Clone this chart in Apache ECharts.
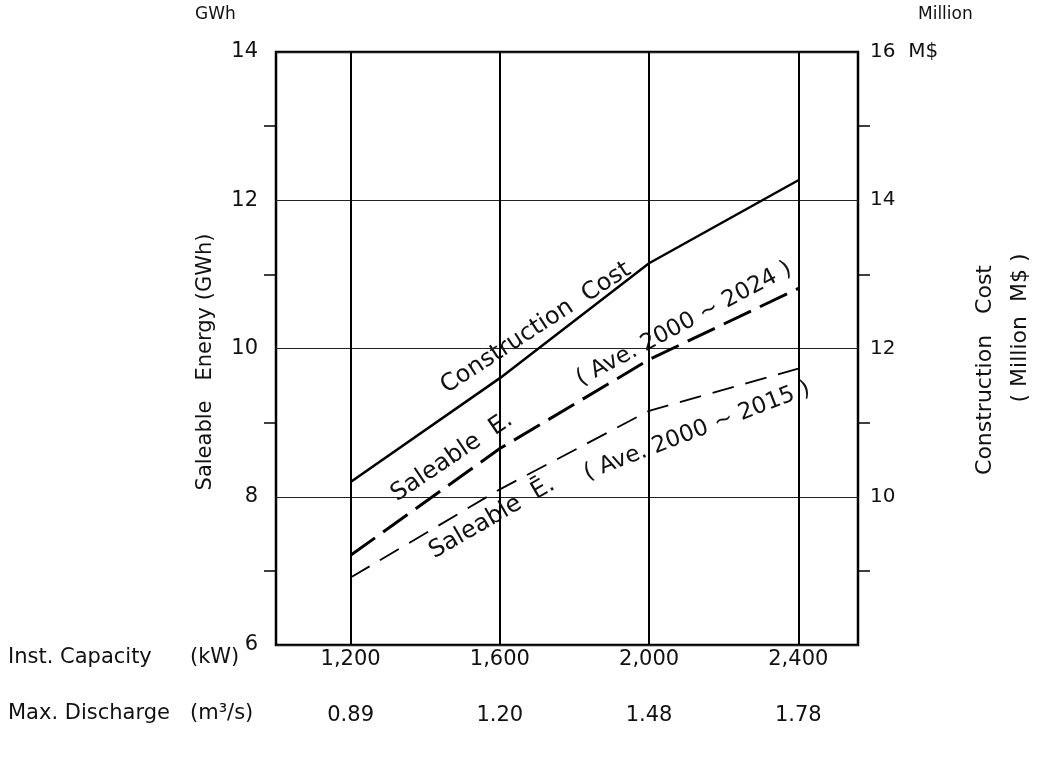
<!DOCTYPE html>
<html><head><meta charset="utf-8">
<script src="https://cdn.jsdelivr.net/npm/echarts@6/dist/echarts.min.js"></script>
<style>html,body{margin:0;padding:0;background:#fff}#c{width:1041px;height:757px}</style>
</head><body><div id="c"></div>
<script>
// Data
var capacityKW = [1200, 1600, 2000, 2400];
var capacityLabels = ['1,200', '1,600', '2,000', '2,400'];
var maxDischarge = ['0.89', '1.20', '1.48', '1.78'];
var constructionCost = [10.2, 11.6, 13.15, 14.27];   // Million M$ (right axis)
var saleable2024 = [7.21, 8.65, 9.85, 10.81];         // GWh
var saleable2015 = [6.91, 8.1, 9.16, 9.73];           // GWh
var leftTicks = [6, 8, 10, 12, 14];
var rightTicks = [10, 12, 14, 16];

var FONT = '"DejaVu Sans", "Noto Sans", sans-serif';
function pairs(xs, ys){ return xs.map(function(x,i){ return [x, ys[i]]; }); }
function rtext(txt, x, y, deg, size){
  return { type: 'text', x: x, y: y, rotation: deg * Math.PI / 180,
    style: { text: txt, fontFamily: FONT, fontSize: size, fill: '#111', align: 'center', verticalAlign: 'middle' } };
}

var chart = echarts.init(document.getElementById('c'));
chart.setOption({
  animation: false,
  backgroundColor: '#fff',
  grid: { left: 276, right: 183, top: 52, bottom: 112, outerBoundsMode: 'none', containLabel: false,
          show: true, borderColor: '#000', borderWidth: 2.5, backgroundColor: 'transparent' },
  xAxis: {
    type: 'value', min: 1000, max: 2560, interval: 200,
    axisLine: { show: false }, axisTick: { show: false }, splitLine: { show: false },
    axisLabel: {
      margin: 0, fontFamily: FONT, fontSize: 21, color: '#111',
      formatter: function(v){
        var i = capacityKW.indexOf(v);
        return i < 0 ? '' : '{a|' + capacityLabels[i] + '}\n{b|' + maxDischarge[i] + '}';
      },
      rich: { a: { fontFamily: FONT, fontSize: 21, color: '#111', lineHeight: 30 },
              b: { fontFamily: FONT, fontSize: 21, color: '#111', lineHeight: 82 } }
    }
  },
  yAxis: [{
    type: 'value', min: 6, max: 14, interval: 2, position: 'left',
    axisLine: { show: false }, axisTick: { show: false },
    minorTick: { show: true, splitNumber: 2, length: 12, inside: true, lineStyle: { color: '#000', width: 1.5 } },
    splitLine: { show: true, lineStyle: { color: '#222', width: 1 } },
    axisLabel: { margin: 18, fontFamily: FONT, fontSize: 21, color: '#111' }
  }, {
    type: 'value', min: 8, max: 16, interval: 2, position: 'right',
    axisLine: { show: false }, axisTick: { show: false }, splitLine: { show: false },
    minorTick: { show: true, splitNumber: 2, length: 12, inside: true, lineStyle: { color: '#000', width: 1.5 } },
    axisLabel: { margin: 12, fontFamily: FONT, fontSize: 20, color: '#111',
      formatter: function(v){ return rightTicks.indexOf(v) < 0 ? '' : (v === 16 ? v + '  M$' : String(v)); } }
  }],
  graphic: [
    { type: 'text', left: 195, top: 6, style: { text: 'GWh', fontFamily: FONT, fontSize: 17, fill: '#111' } },
    { type: 'text', left: 918, top: 6, style: { text: 'Million', fontFamily: FONT, fontSize: 17, fill: '#111' } },
    { type: 'text', left: 8, top: 647, style: { text: 'Inst. Capacity', fontFamily: FONT, fontSize: 21, fill: '#111' } },
    { type: 'text', left: 190, top: 647, style: { text: '(kW)', fontFamily: FONT, fontSize: 21, fill: '#111' } },
    { type: 'text', left: 8, top: 703, style: { text: 'Max. Discharge', fontFamily: FONT, fontSize: 21, fill: '#111' } },
    { type: 'text', left: 190, top: 703, style: { text: '(m³/s)', fontFamily: FONT, fontSize: 21, fill: '#111' } },
    rtext('Saleable   Energy (GWh)', 206, 362, 90, 21),
    rtext('Construction   Cost', 985, 370, 90, 22),
    rtext('( Million  M$ )', 1020, 328, 90, 22),
    rtext('Construction  Cost', 536, 328, 33, 24),
    rtext('Saleable  E.', 452, 457, 34, 24),
    rtext('( Ave. 2000 ~ 2024 )', 684, 324, 28, 23),
    rtext('Saleable  Ē.', 492, 518, 30, 24),
    rtext('( Ave. 2000 ~ 2015 )', 697, 431, 21, 23)
  ],
  series: [{
    name: 'Construction Cost', type: 'line', yAxisIndex: 1, data: pairs(capacityKW, constructionCost),
    symbol: 'none', lineStyle: { color: '#000', width: 2.5 },
    markLine: { silent: true, symbol: 'none', label: { show: false },
      lineStyle: { color: '#000', width: 2, type: 'solid' },
      data: capacityKW.map(function(v){ return { xAxis: v }; }) }
  }, {
    name: 'Saleable E. (Ave. 2000~2024)', type: 'line', yAxisIndex: 0, data: pairs(capacityKW, saleable2024),
    symbol: 'none', lineStyle: { color: '#000', width: 3, type: [30, 10] }
  }, {
    name: 'Saleable E. (Ave. 2000~2015)', type: 'line', yAxisIndex: 0, data: pairs(capacityKW, saleable2015),
    symbol: 'none', lineStyle: { color: '#000', width: 1.8, type: [22, 12] }
  }]
});
</script></body></html>
